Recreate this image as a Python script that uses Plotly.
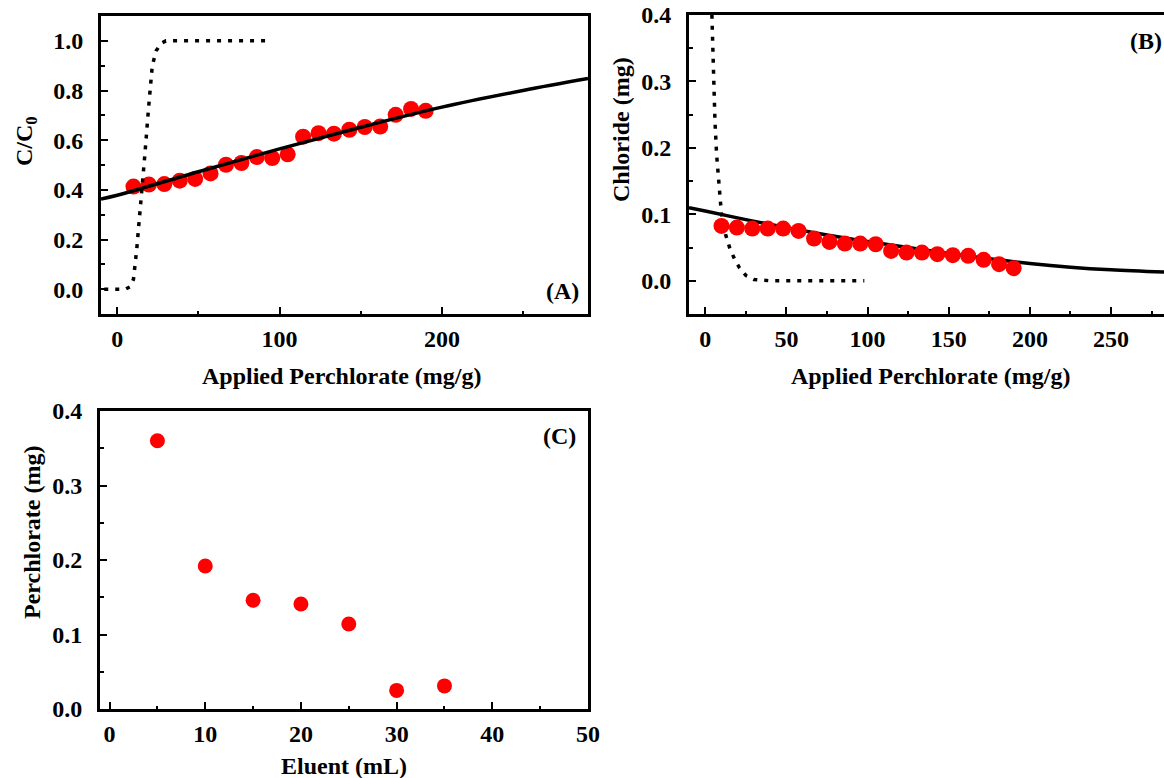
import plotly.graph_objects as go

W, H = 1164, 778

# ---------------- data ----------------
applied = [10, 19.5, 29, 38.5, 48, 57.5, 67, 76.5, 86, 95.5, 105, 114.5, 124, 133.5, 143, 152.5, 162, 171.5, 181, 190]
a_ratio = [0.413, 0.421, 0.423, 0.437, 0.444, 0.466, 0.501, 0.508, 0.532, 0.528, 0.543, 0.614, 0.628, 0.626,
           0.642, 0.653, 0.655, 0.702, 0.726, 0.718]
a_fit_x = [-10, 0, 50, 100, 150, 200, 250, 290]
a_fit_y = [0.363, 0.378, 0.473, 0.565, 0.652, 0.733, 0.800, 0.848]
a_dot_x = [-8, 5, 8, 10, 12, 14.5, 17, 19.3, 21.6, 24, 27, 30, 93]
a_dot_y = [0, 0, 0.01, 0.04, 0.16, 0.34, 0.54, 0.73, 0.90, 0.96, 0.99, 1.0, 1.0]

b_chloride = [0.0825, 0.080, 0.0785, 0.0785, 0.0785, 0.075, 0.0635, 0.0585, 0.056, 0.056, 0.055, 0.045, 0.0425,
              0.0425, 0.040, 0.0385, 0.0375, 0.0315, 0.025, 0.019]
b_fit_x = [-10, 0, 25, 50, 75, 100, 125, 150, 175, 200, 225, 250, 283]
b_fit_y = [0.110, 0.105, 0.092, 0.080, 0.069, 0.059, 0.050, 0.041, 0.033, 0.026, 0.0205, 0.0165, 0.013]
b_dot_x = [3.5, 4.0, 5.0, 6.0, 7.0, 8.5, 10, 12.5, 15, 18, 21, 25, 30, 40, 98]
b_dot_y = [0.45, 0.40, 0.30, 0.24, 0.19, 0.14, 0.10, 0.07, 0.05, 0.033, 0.02, 0.008, 0.002, 0, 0]

eluent = [5, 10, 15, 20, 25, 30, 35]
perchlorate = [0.360, 0.192, 0.146, 0.141, 0.114, 0.025, 0.031]

# ---------------- style ----------------
FONT = "Liberation Serif"
RED = "#FF0000"
DOT = "4px,7px"


def px_x(p):
    return p / W


def px_y(p):
    return 1 - p / H


fig = go.Figure()

# Panel A
fig.add_trace(go.Scatter(x=applied, y=a_ratio, mode="markers", marker=dict(color=RED, size=16),
                         xaxis="x", yaxis="y", showlegend=False))
fig.add_trace(go.Scatter(x=a_fit_x, y=a_fit_y, mode="lines", line=dict(color="black", width=3.5, shape="spline"),
                         xaxis="x", yaxis="y", showlegend=False))
fig.add_trace(go.Scatter(x=a_dot_x, y=a_dot_y, mode="lines", line=dict(color="black", width=3.5, dash=DOT),
                         xaxis="x", yaxis="y", showlegend=False))

# Panel B
fig.add_trace(go.Scatter(x=b_fit_x, y=b_fit_y, mode="lines", line=dict(color="black", width=3.5, shape="spline"),
                         xaxis="x2", yaxis="y2", showlegend=False))
fig.add_trace(go.Scatter(x=b_dot_x, y=b_dot_y, mode="lines", line=dict(color="black", width=3.5, dash=DOT),
                         xaxis="x2", yaxis="y2", showlegend=False))
fig.add_trace(go.Scatter(x=applied, y=b_chloride, mode="markers", marker=dict(color=RED, size=16),
                         xaxis="x2", yaxis="y2", showlegend=False))

# Panel C
fig.add_trace(go.Scatter(x=eluent, y=perchlorate, mode="markers", marker=dict(color=RED, size=15),
                         xaxis="x3", yaxis="y3", showlegend=False))

tickfont = dict(family=FONT, size=24, color="black", weight="bold")


def ax(domain, rng, dtick, minor_dtick, anchor, mirror=True, fmt=None, standoff=1):
    d = dict(domain=domain, range=rng, dtick=dtick, tick0=0, anchor=anchor,
             showline=True, linewidth=3, linecolor="black", mirror=mirror,
             ticks="inside", ticklen=7, tickwidth=2, tickcolor="black",
             minor=dict(dtick=minor_dtick, tick0=0, ticks="inside", ticklen=3.5, tickwidth=2, tickcolor="black"),
             showgrid=False, zeroline=False, tickfont=tickfont, ticklabelstandoff=standoff,
             automargin=False)
    if fmt:
        d["tickformat"] = fmt
    return d


A_x = [px_x(101), px_x(588)]
A_y = [px_y(314), px_y(16)]
B_x = [px_x(689), 1.0]
B_y = [px_y(314), px_y(15)]
C_x = [px_x(100), px_x(588)]
C_y = [px_y(709), px_y(411)]

fig.update_layout(
    width=W, height=H,
    margin=dict(l=0, r=0, t=0, b=0, pad=0, autoexpand=False),
    paper_bgcolor="white", plot_bgcolor="white",
    xaxis=ax(A_x, [-10, 290], 100, 50, "y"),
    yaxis=ax(A_y, [-0.1, 1.1], 0.2, 0.1, "x", fmt=".1f", standoff=10),
    xaxis2=ax(B_x, [-10, 282.6], 50, 25, "y2"),
    yaxis2=ax(B_y, [-0.05, 0.4], 0.1, 0.05, "x2", mirror=False, fmt=".1f", standoff=10),
    xaxis3=ax(C_x, [-1, 50], 10, 5, "y3"),
    yaxis3=ax(C_y, [0, 0.4], 0.1, 0.05, "x3", fmt=".1f", standoff=10),
)

lab = dict(family=FONT, size=24, color="black", weight="bold")
annos = [
    ("(A)", 562, 291, 0), ("(B)", 1146, 41, 0), ("(C)", 559, 436, 0),
    ("Applied Perchlorate (mg/g)", 342, 376, 0),
    ("Applied Perchlorate (mg/g)", 931, 376, 0),
    ("Eluent (mL)", 344, 766, 0),
    ("C/C<sub>0</sub>", 26, 141, -90),
    ("Chloride (mg)", 621, 130, -90),
    ("Perchlorate (mg)", 32, 533, -90),
]
for text, x, y, ang in annos:
    fig.add_annotation(text=text, x=px_x(x), y=px_y(y), xref="paper", yref="paper",
                       xanchor="center", yanchor="middle", showarrow=False, textangle=ang, font=lab)

fig.write_html(
    "out.html",
    config={"displayModeBar": False},
    post_script="document.body.style.margin='0';document.body.style.padding='0';"
                "document.body.style.overflow='hidden';",
)
